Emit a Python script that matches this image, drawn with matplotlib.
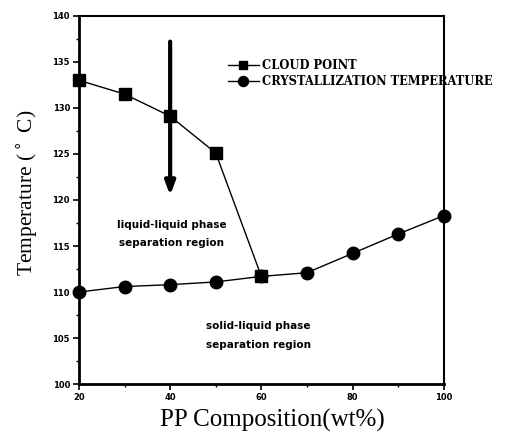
import matplotlib.pyplot as plt
from matplotlib.ticker import MultipleLocator

# dati
pp_cloud = [20, 30, 40, 50, 60]
cloud_point = [133.0, 131.5, 129.1, 125.1, 111.7]

pp_cryst = [20, 30, 40, 50, 60, 70, 80, 90, 100]
cryst_temp = [110.0, 110.6, 110.8, 111.1, 111.7, 112.1, 114.2, 116.3, 118.3]

x_ticks = [20, 40, 60, 80, 100]
y_ticks = [100, 105, 110, 115, 120, 125, 130, 135, 140]

fig = plt.figure(figsize=(5.06, 4.4), dpi=100)
ax = fig.add_axes([0.156, 0.127, 0.721, 0.837])

ax.plot(pp_cryst, cryst_temp, color="black", lw=1.0, marker="o", ms=9,
        label="CRYSTALLIZATION TEMPERATURE", zorder=3, clip_on=False)
ax.plot(pp_cloud, cloud_point, color="black", lw=1.0, marker="s", ms=8,
        label="CLOUD POINT", zorder=4, clip_on=False)

ax.set_xlim(20, 100)
ax.set_ylim(100, 140)
ax.set_xticks(x_ticks)
ax.set_yticks(y_ticks)
ax.xaxis.set_minor_locator(MultipleLocator(10))
ax.yaxis.set_minor_locator(MultipleLocator(2.5))
ax.tick_params(which="major", direction="out", length=4, width=1.2, pad=2.5)
ax.tick_params(which="minor", direction="out", length=2.5, width=1)
for lab in ax.get_xticklabels() + ax.get_yticklabels():
    lab.set_fontfamily("DejaVu Sans")
    lab.set_fontweight("bold")
    lab.set_fontsize(6)

for side in ["left", "bottom"]:
    ax.spines[side].set_linewidth(2)
for side in ["top", "right"]:
    ax.spines[side].set_linewidth(1.5)

ax.set_xlabel("PP Composition(wt%)", fontfamily="Liberation Serif", fontsize=18)
ax.xaxis.set_label_coords(0.53, -0.068)
ax.set_ylabel("Temperature ($^\\circ$ C)", fontfamily="Liberation Serif", fontsize=15.5)
ax.yaxis.set_label_coords(-0.108, 0.52)

# legenda
handles, labels = ax.get_legend_handles_labels()
leg = ax.legend(handles[::-1], labels[::-1], loc="upper left", bbox_to_anchor=(0.395, 0.895),
                frameon=False, handlelength=2.7, handletextpad=0.3, labelspacing=0.28,
                markerscale=0.8, borderaxespad=0,
                prop={"family": "DejaVu Serif", "weight": "bold", "size": 8.3})

# freccia
ax.annotate("", xy=(40, 120.2), xytext=(40, 137.5),
            arrowprops=dict(arrowstyle="-|>,head_length=0.8,head_width=0.3", color="black", lw=3))

# testi delle regioni
testo = dict(ha="center", va="center", fontsize=7.5, fontweight="bold", fontfamily="DejaVu Sans")
ax.text(40.3, 117.3, "liquid-liquid phase", **testo)
ax.text(40.3, 115.3, "separation region", **testo)
ax.text(59.3, 106.3, "solid-liquid phase", **testo)
ax.text(59.3, 104.2, "separation region", **testo)

fig.savefig("out.png", dpi=100)
